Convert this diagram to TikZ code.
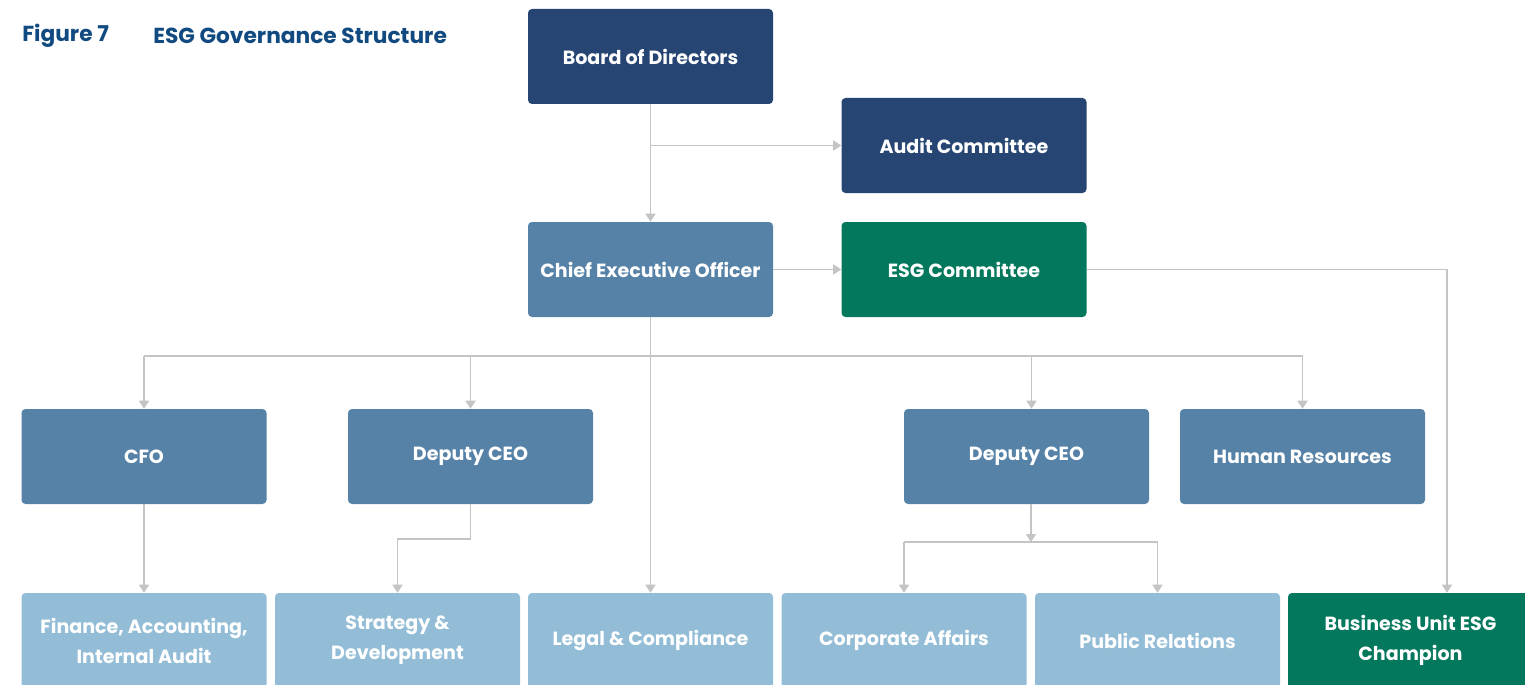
\documentclass[tikz,border=0pt]{standalone}
\usepackage{fontspec}
\setmainfont{Poppins}
\usetikzlibrary{arrows.meta,calc}
\definecolor{navy}{HTML}{264573}
\definecolor{midblue}{HTML}{5682A8}
\definecolor{esggreen}{HTML}{03785C}
\definecolor{lightblue}{HTML}{93BDD7}
\definecolor{linegray}{HTML}{C4C4C4}
\definecolor{titleblue}{HTML}{114A80}
\tikzset{
  orgbox/.style={rounded corners=3pt, minimum width=183.75pt, minimum height=71.25pt,
    inner sep=0pt, text=white, align=center,
    font=\fontsize{14.3pt}{22.5pt}\selectfont\bfseries},
  navybox/.style={orgbox, fill=navy},
  midbox/.style={orgbox, fill=midblue},
  greenbox/.style={orgbox, fill=esggreen},
  lightbox/.style={orgbox, fill=lightblue},
  conn/.style={draw=linegray, line width=1.1pt},
  arr/.style={conn, -{Triangle[width=7.5pt,length=6pt]}},
  titletext/.style={text=titleblue, font=\fontsize{16.3pt}{19pt}\selectfont\bfseries, anchor=west, inner sep=0pt}
}
\begin{document}
\begin{tikzpicture}[x=0.75pt,y=-0.75pt]
\useasboundingbox (0,0) rectangle (1525,685);
\path[clip] (0,0) rectangle (1525,685);
\fill[white] (0,0) rectangle (1525,685);

\node[titletext] (fig) at (22,36) {Figure 7};
\node[titletext] (ttl) at (153,36) {ESG Governance Structure};

\node[navybox] (board) at (650.5,56.5) {Board of Directors};
\node[navybox] (audit) at (964,145.5) {Audit Committee};
\node[midbox] (ceo) at (650.5,269.5) {Chief Executive Officer};
\node[greenbox] (esg) at (964,269.5) {ESG Committee};

\node[midbox] (cfo) at (144,456.5) {CFO};
\node[midbox] (dep1) at (470.5,456.5) {Deputy CEO};
\node[midbox] (dep2) at (1026.5,456.5) {Deputy CEO};
\node[midbox] (hr) at (1302.5,456.5) {Human Resources};

\node[lightbox] (fin) at (144,640.5) {Finance, Accounting,\\Internal Audit};
\node[lightbox] (strat) at (397.5,640.5) {Strategy \&\\Development};
\node[lightbox] (legal) at (650.5,640.5) {Legal \& Compliance};
\node[lightbox] (corp) at (904,640.5) {Corporate Affairs};
\node[lightbox] (pr) at (1157.5,640.5) {Public Relations};
\node[greenbox] (bu) at (1410.5,640.5) {Business Unit ESG\\Champion};

\coordinate (bus) at (650.5,356);
\coordinate (bend1) at (470.5,539);
\coordinate (bus2) at (1031,542);
\coordinate (d2top) at ($(dep2.north)+(5,0)$);
\coordinate (d2bot) at ($(dep2.south)+(4.5,0)$);
\coordinate (butop) at ($(bu.north)+(36.5,0)$);

% Board to CEO and Audit
\draw[arr] (board.south) -- (ceo.north);
\draw[arr] (board.south |- audit.west) -- (audit.west);
% CEO to ESG
\draw[arr] (ceo.east) -- (esg.west);
% ESG to Business Unit
\draw[arr] (esg.east) -| (butop);
% CEO to Legal
\draw[arr] (ceo.south) -- (legal.north);
% Bus
\draw[conn] (cfo.north |- bus) -- (hr.north |- bus);
\draw[arr] (cfo.north |- bus) -- (cfo.north);
\draw[arr] (dep1.north |- bus) -- (dep1.north);
\draw[arr] (d2top |- bus) -- (d2top);
\draw[arr] (hr.north |- bus) -- (hr.north);
% CFO to Finance
\draw[arr] (cfo.south) -- (fin.north);
% Deputy 1 to Strategy
\draw[arr] (dep1.south) -- (bend1) -| (strat.north);
% Deputy 2 to Corporate / PR
\draw[arr] (d2bot) -- (bus2);
\draw[conn] (corp.north |- bus2) -- (pr.north |- bus2);
\draw[arr] (corp.north |- bus2) -- (corp.north);
\draw[arr] (pr.north |- bus2) -- (pr.north);
\end{tikzpicture}
\end{document}
